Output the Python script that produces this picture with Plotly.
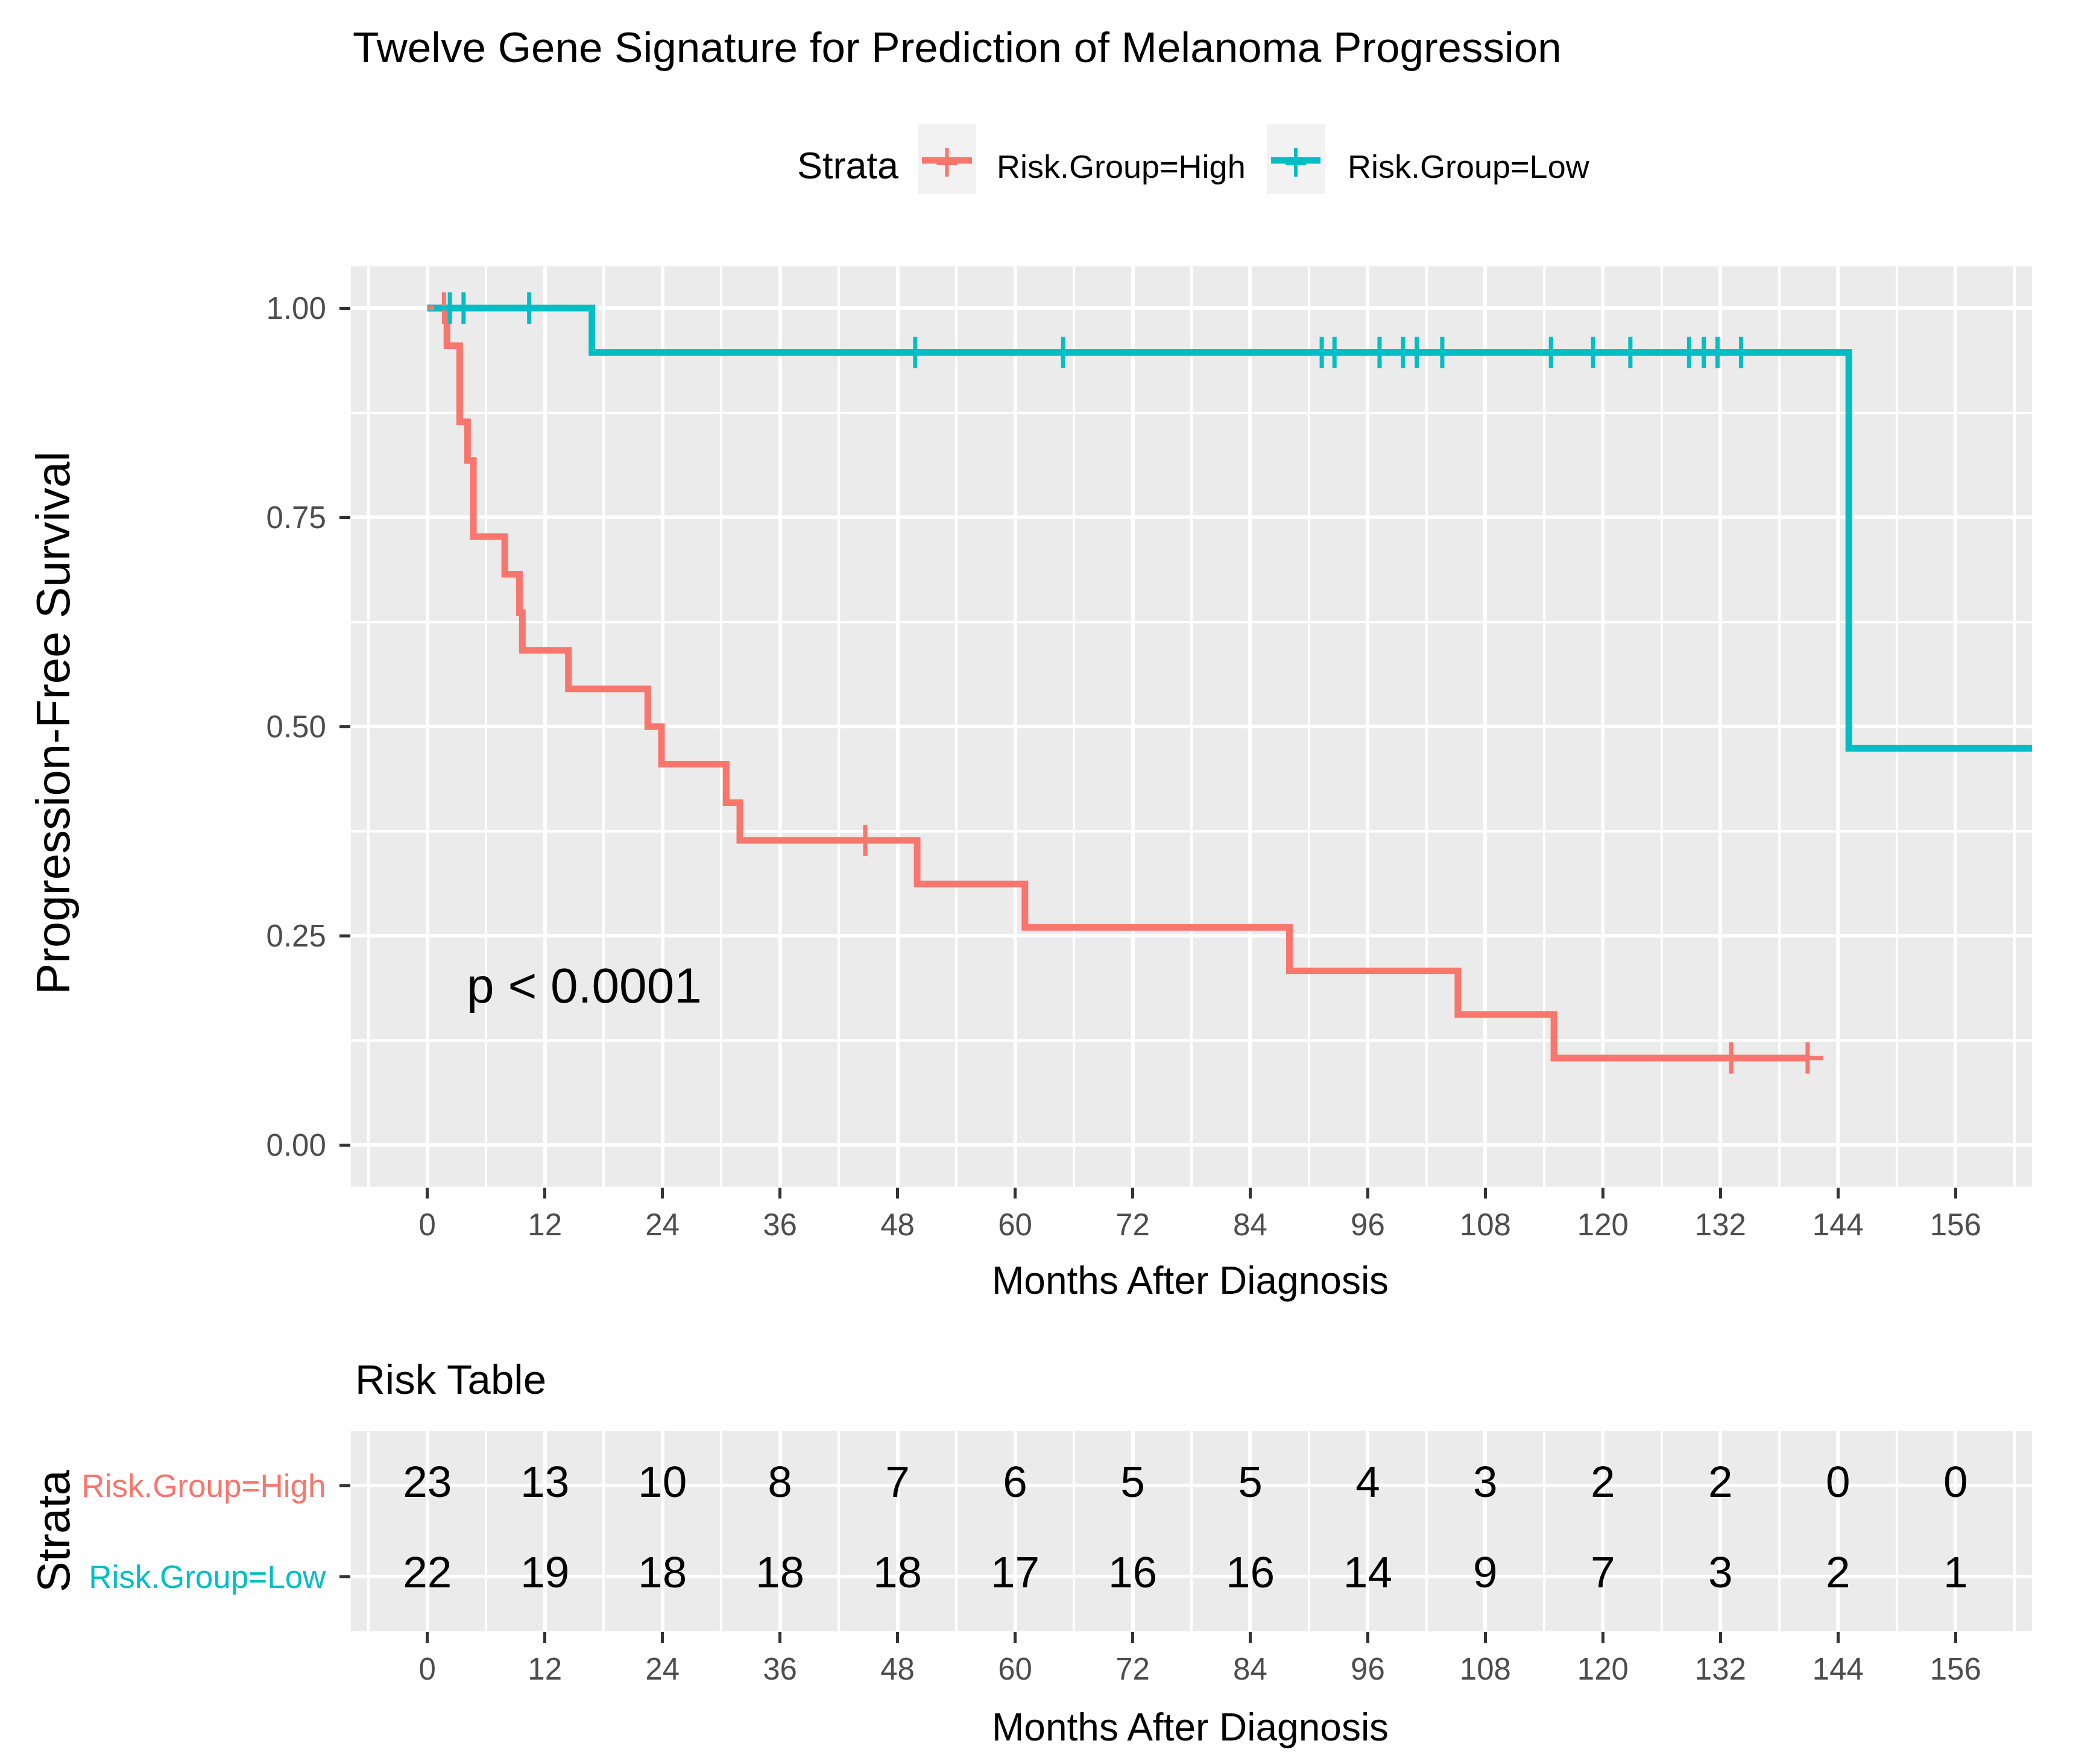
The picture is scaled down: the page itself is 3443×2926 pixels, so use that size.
import plotly.graph_objects as go

# ---------------- data ----------------
high_times = [0, 2.0, 3.3, 4.1, 4.7, 7.9, 9.4, 9.7, 14.4, 22.5, 23.9, 30.5, 31.9, 50.0, 61.0, 88.0, 105.2, 115.0, 140.9]
high_surv = [1.0, 0.955, 0.864, 0.818, 0.727, 0.682, 0.636, 0.591, 0.545, 0.500, 0.455, 0.409, 0.364, 0.312, 0.260, 0.208, 0.156, 0.104, 0.104]
high_censor_t = [1.7, 44.7, 133.1, 140.9]
high_censor_s = [1.0, 0.364, 0.104, 0.104]

low_times = [0, 16.8, 145.1, 166.0]
low_surv = [1.0, 0.947, 0.474, 0.474]
low_censor_t = [2.3, 3.7, 10.4, 49.8, 64.9, 91.3, 92.6, 97.2, 99.6, 101.0, 103.6,
                114.7, 119.0, 122.8, 128.8, 130.3, 131.7, 134.1]
low_censor_s = [1.0, 1.0, 1.0, 0.947, 0.947, 0.947, 0.947, 0.947, 0.947, 0.947, 0.947,
                0.947, 0.947, 0.947, 0.947, 0.947, 0.947, 0.947]

time_ticks = [0, 12, 24, 36, 48, 60, 72, 84, 96, 108, 120, 132, 144, 156]
high_risk = [23, 13, 10, 8, 7, 6, 5, 5, 4, 3, 2, 2, 0, 0]
low_risk = [22, 19, 18, 18, 18, 17, 16, 16, 14, 9, 7, 3, 2, 1]

surv_ticks = [0, 0.25, 0.5, 0.75, 1.0]
surv_ticklabels = ["0.00", "0.25", "0.50", "0.75", "1.00"]

strata_names = ["Risk.Group=High", "Risk.Group=Low"]
title_text = "Twelve Gene Signature for Prediction of Melanoma Progression"
pval_text = "p < 0.0001"

# ---------------- style ----------------
RED = "#F8766D"
CYAN = "#00BFC4"
FONT = "Liberation Sans, Arial, sans-serif"
W, H = 3443, 2926


def px(xp):
    return xp / W


def py(yp):
    return 1 - yp / H


fig = go.Figure()

fig.add_trace(go.Scatter(x=high_times, y=high_surv, mode="lines",
                         line=dict(color=RED, width=11, shape="hv"),
                         xaxis="x", yaxis="y", hoverinfo="skip"))
fig.add_trace(go.Scatter(x=low_times, y=low_surv, mode="lines",
                         line=dict(color=CYAN, width=11, shape="hv"),
                         xaxis="x", yaxis="y", hoverinfo="skip"))
fig.add_trace(go.Scatter(x=high_censor_t, y=high_censor_s, mode="markers",
                         marker=dict(symbol="cross-thin", size=37, color=RED,
                                     line=dict(width=7, color=RED)),
                         xaxis="x", yaxis="y", hoverinfo="skip"))
fig.add_trace(go.Scatter(x=low_censor_t, y=low_censor_s, mode="markers",
                         marker=dict(symbol="cross-thin", size=37, color=CYAN,
                                     line=dict(width=7, color=CYAN)),
                         xaxis="x", yaxis="y", hoverinfo="skip"))

# risk table numbers
fig.add_trace(go.Scatter(x=time_ticks, y=[2] * len(time_ticks), mode="text",
                         text=[str(v) for v in high_risk],
                         textfont=dict(family=FONT, size=73, color="black"),
                         textposition="middle center",
                         xaxis="x2", yaxis="y2", hoverinfo="skip"))
fig.add_trace(go.Scatter(x=time_ticks, y=[1] * len(time_ticks), mode="text",
                         text=[str(v) for v in low_risk],
                         textfont=dict(family=FONT, size=73, color="black"),
                         textposition="middle center",
                         xaxis="x2", yaxis="y2", hoverinfo="skip"))

xdom = [px(574), px(3362)]
tickfont = dict(family=FONT, size=51, color="#4D4D4D")
common_x = dict(domain=xdom, range=[-7.8, 163.8], tickmode="array", tickvals=time_ticks,
                ticktext=[str(t) for t in time_ticks],
                ticks="outside", ticklen=18, tickwidth=5, tickcolor="#333333",
                showgrid=True, gridcolor="white", gridwidth=6, zeroline=False,
                showline=False, tickfont=tickfont,
                minor=dict(dtick=6, tick0=0, showgrid=True, gridcolor="white",
                           gridwidth=3.5, ticks=""))

fig.update_layout(
    width=W, height=H,
    margin=dict(l=0, r=0, t=0, b=0),
    paper_bgcolor="white", plot_bgcolor="#EBEBEB",
    showlegend=False,
    xaxis=dict(anchor="y", **common_x),
    yaxis=dict(domain=[py(1960.7), py(433.6)], range=[-0.05, 1.05], anchor="x",
               tickmode="array", tickvals=surv_ticks, ticktext=surv_ticklabels,
               ticks="outside", ticklen=18, tickwidth=5, tickcolor="#333333",
               ticklabelstandoff=12,
               showgrid=True, gridcolor="white", gridwidth=6, zeroline=False,
               showline=False, tickfont=tickfont,
               minor=dict(dtick=0.125, tick0=0, showgrid=True, gridcolor="white",
                          gridwidth=3.5, ticks="")),
    xaxis2=dict(anchor="y2", **common_x),
    yaxis2=dict(domain=[py(2697.7), py(2366)], range=[0.4, 2.6], anchor="x2",
                tickmode="array", tickvals=[2, 1],
                ticktext=[f'<span style="color:{RED}">{strata_names[0]}</span>',
                          f'<span style="color:{CYAN}">{strata_names[1]}</span>'],
                ticks="outside", ticklen=18, tickwidth=5, tickcolor="#333333",
                ticklabelstandoff=12,
                showgrid=True, gridcolor="white", gridwidth=6, zeroline=False,
                showline=False, tickfont=dict(family=FONT, size=53)),
)

ann = []
# title
ann.append(dict(text=title_text, x=px(575), y=py(70.5), xref="paper", yref="paper",
                xanchor="left", yanchor="middle", showarrow=False,
                font=dict(family=FONT, size=71, color="black")))
# legend
ann.append(dict(text="Strata", x=px(1312), y=py(266.5), xref="paper", yref="paper",
                xanchor="left", yanchor="middle", showarrow=False,
                font=dict(family=FONT, size=63, color="black")))
ann.append(dict(text=strata_names[0], x=px(1643), y=py(267.5), xref="paper", yref="paper",
                xanchor="left", yanchor="middle", showarrow=False,
                font=dict(family=FONT, size=54, color="black")))
ann.append(dict(text=strata_names[1], x=px(2225), y=py(267.5), xref="paper", yref="paper",
                xanchor="left", yanchor="middle", showarrow=False,
                font=dict(family=FONT, size=54, color="black")))
# axis titles
ann.append(dict(text="Progression-Free Survival", x=px(80), y=py(1191), xref="paper", yref="paper",
                xanchor="center", yanchor="middle", textangle=-90, showarrow=False,
                font=dict(family=FONT, size=78, color="black")))
ann.append(dict(text="Months After Diagnosis", x=px(1966), y=py(2116), xref="paper", yref="paper",
                xanchor="center", yanchor="middle", showarrow=False,
                font=dict(family=FONT, size=64, color="black")))
ann.append(dict(text="Risk Table", x=px(578.6), y=py(2280), xref="paper", yref="paper",
                xanchor="left", yanchor="middle", showarrow=False,
                font=dict(family=FONT, size=69, color="black")))
ann.append(dict(text="Months After Diagnosis", x=px(1966), y=py(2856.5), xref="paper", yref="paper",
                xanchor="center", yanchor="middle", showarrow=False,
                font=dict(family=FONT, size=64, color="black")))
ann.append(dict(text="Strata", x=px(80), y=py(2532), xref="paper", yref="paper",
                xanchor="center", yanchor="middle", textangle=-90, showarrow=False,
                font=dict(family=FONT, size=76, color="black")))
# p-value
ann.append(dict(text=pval_text, x=3.9, y=0.191, xref="x", yref="y",
                xanchor="left", yanchor="middle", showarrow=False,
                font=dict(family=FONT, size=82, color="black")))
fig.update_layout(annotations=ann)

# legend keys (drawn as shapes)
shapes = []
for (x0, x1), col in [((1514, 1611), RED), ((2093, 2189), CYAN)]:
    shapes.append(dict(type="rect", xref="paper", yref="paper",
                       x0=px(x0), x1=px(x1), y0=py(314), y1=py(198),
                       fillcolor="#F2F2F2", line=dict(width=0), layer="above"))
    shapes.append(dict(type="line", xref="paper", yref="paper",
                       x0=px(x0 + 7), x1=px(x1 - 7), y0=py(258), y1=py(258),
                       line=dict(color=col, width=11), layer="above"))
    cx = (x0 + x1) / 2
    shapes.append(dict(type="line", xref="paper", yref="paper",
                       x0=px(cx), x1=px(cx), y0=py(237), y1=py(285),
                       line=dict(color=col, width=6), layer="above"))
    shapes.append(dict(type="line", xref="paper", yref="paper",
                       x0=px(cx - 17), x1=px(cx + 17), y0=py(263), y1=py(263),
                       line=dict(color=col, width=6), layer="above"))
fig.update_layout(shapes=shapes)

fig.write_html("out.html")
